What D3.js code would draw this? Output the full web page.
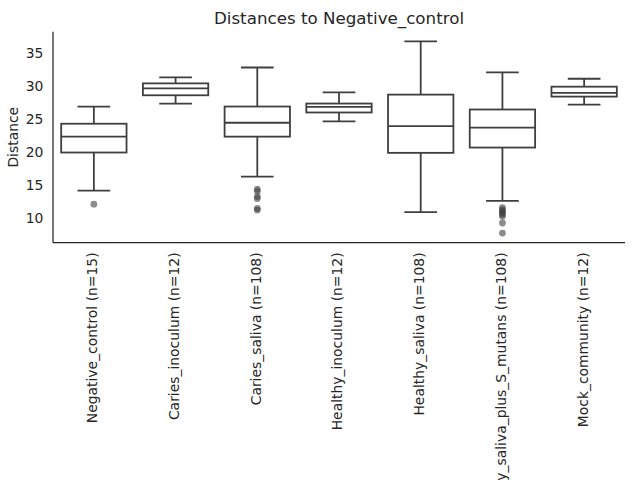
<!DOCTYPE html>
<html>
<head>
<meta charset="utf-8">
<script src="https://cdn.jsdelivr.net/npm/d3@7"></script>
<style>
  body { margin: 0; background: #fff; }
  text { font-family: "DejaVu Sans", sans-serif; fill: #262626; }
</style>
</head>
<body>
<svg id="chart" width="640" height="480"></svg>
<script>
const title = "Distances to Negative_control";
const yLabel = "Distance";
const categories = [
  "Negative_control (n=15)",
  "Caries_inoculum (n=12)",
  "Caries_saliva (n=108)",
  "Healthy_inoculum (n=12)",
  "Healthy_saliva (n=108)",
  "Healthy_saliva_plus_S_mutans (n=108)",
  "Mock_community (n=12)"
];
const whiskerLow  = [14.2, 27.35, 16.3, 24.65, 10.95, 12.65, 27.2];
const q1          = [19.95, 28.6, 22.35, 26.0, 19.9, 20.7, 28.4];
const median      = [22.35, 29.65, 24.45, 26.85, 23.95, 23.7, 28.95];
const q3          = [24.3, 30.4, 26.9, 27.35, 28.7, 26.45, 29.9];
const whiskerHigh = [26.9, 31.3, 32.8, 29.05, 36.76, 32.05, 31.1];
const outliers = [
  [12.15],
  [],
  [14.4, 14.1, 13.3, 13.0, 11.5, 11.25],
  [],
  [],
  [11.6, 11.3, 11.1, 10.85, 10.6, 10.3, 9.3, 7.77],
  []
];
const yTicks = [10, 15, 20, 25, 30, 35];

const svg = d3.select("#chart");
const m = { left: 53, right: 625, top: 31.7, bottom: 242.7 };

const allVals = whiskerLow.concat(whiskerHigh, outliers.flat());
const lo = d3.min(allVals), hi = d3.max(allVals), pad = (hi - lo) * 0.05;

const x = d3.scaleBand().domain(categories).range([m.left, m.right]).paddingInner(0).paddingOuter(0);
const y = d3.scaleLinear().domain([lo - pad, hi + pad]).range([m.bottom, m.top]);

const lineColor = "#3f3f3f";
const lw = 1.8;
const bw = x.bandwidth() * 0.8;
const capW = bw / 2;

const g = svg.append("g");
categories.forEach((c, i) => {
  const cx = x(c) + x.bandwidth() / 2;
  const grp = g.append("g");
  grp.append("line").attr("x1", cx).attr("x2", cx).attr("y1", y(q3[i])).attr("y2", y(whiskerHigh[i]))
    .attr("stroke", lineColor).attr("stroke-width", lw);
  grp.append("line").attr("x1", cx).attr("x2", cx).attr("y1", y(q1[i])).attr("y2", y(whiskerLow[i]))
    .attr("stroke", lineColor).attr("stroke-width", lw);
  [whiskerHigh[i], whiskerLow[i]].forEach(v => {
    grp.append("line").attr("x1", cx - capW / 2).attr("x2", cx + capW / 2).attr("y1", y(v)).attr("y2", y(v))
      .attr("stroke", lineColor).attr("stroke-width", lw);
  });
  grp.append("rect").attr("x", cx - bw / 2).attr("width", bw)
    .attr("y", y(q3[i])).attr("height", y(q1[i]) - y(q3[i]))
    .attr("fill", "#ffffff").attr("stroke", lineColor).attr("stroke-width", lw);
  grp.append("line").attr("x1", cx - bw / 2).attr("x2", cx + bw / 2).attr("y1", y(median[i])).attr("y2", y(median[i]))
    .attr("stroke", lineColor).attr("stroke-width", lw);
  grp.selectAll("circle.out").data(outliers[i]).enter().append("circle")
    .attr("class", "out").attr("cx", cx).attr("cy", d => y(d)).attr("r", 3.4)
    .attr("fill", lineColor).attr("fill-opacity", 0.6);
});

const yAxis = d3.axisLeft(y).tickValues(yTicks).tickSize(0).tickPadding(9.7);
const ya = svg.append("g").attr("transform", `translate(${m.left},0)`).call(yAxis);
ya.select(".domain").remove();
ya.selectAll("text").style("font-size", "13.9px").style("font-family", "DejaVu Sans").attr("fill", "#262626");

const xAxis = d3.axisBottom(x).tickSize(0).tickPadding(0);
const xa = svg.append("g").attr("transform", `translate(0,${m.bottom})`).call(xAxis);
xa.select(".domain").remove();
xa.selectAll("text")
  .attr("transform", "rotate(-90)")
  .attr("x", -9.7).attr("y", 0).attr("dy", "0.25em")
  .style("text-anchor", "end")
  .style("font-size", "13.9px").style("font-family", "DejaVu Sans").attr("fill", "#262626");

svg.append("line").attr("x1", m.left).attr("x2", m.left).attr("y1", m.top).attr("y2", m.bottom)
  .attr("stroke", "#262626").attr("stroke-width", 1.25);
svg.append("line").attr("x1", m.left).attr("x2", m.right).attr("y1", m.bottom).attr("y2", m.bottom)
  .attr("stroke", "#262626").attr("stroke-width", 1.25);

svg.append("text").attr("x", (m.left + m.right) / 2).attr("y", 24)
  .attr("text-anchor", "middle").style("font-size", "16.7px").text(title);

svg.append("text").attr("transform", `translate(18,${(m.top + m.bottom) / 2}) rotate(-90)`)
  .attr("text-anchor", "middle").style("font-size", "13.9px").text(yLabel);
</script>
</body>
</html>
